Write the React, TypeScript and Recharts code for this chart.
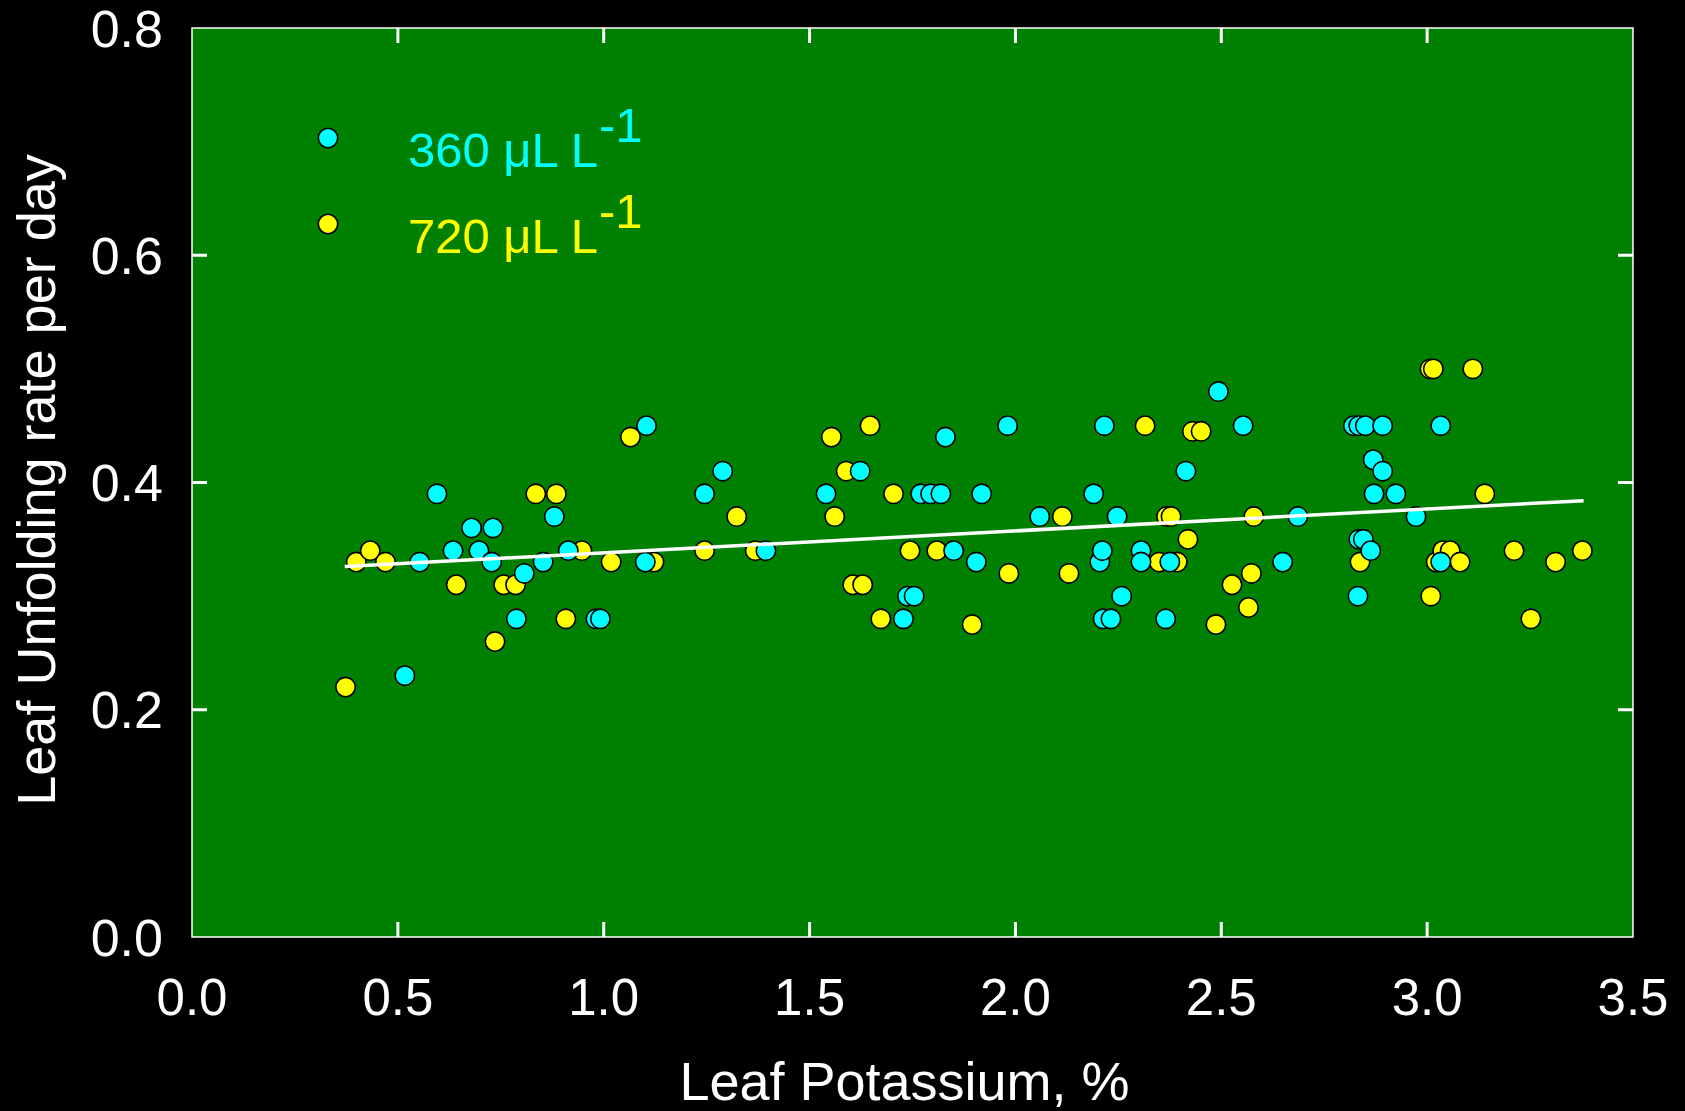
import React from 'react';
import { ScatterChart, Scatter, XAxis, YAxis, CartesianGrid, ReferenceArea, Legend } from 'recharts';

// Leaf potassium (%) and leaf unfolding rate, 360 µL/L CO2
const potassium360 = [
  0.517, 0.553, 0.595, 0.634, 0.679, 0.697, 0.728, 0.731, 0.788, 0.807, 0.853, 0.880, 0.914, 0.981, 0.992,
  1.104, 1.101, 1.245, 1.289, 1.394, 1.540, 1.623, 1.728, 1.738, 1.754, 1.770, 1.794, 1.819, 1.830, 1.850,
  1.905, 1.918, 1.981, 2.059, 2.190, 2.205, 2.211, 2.216, 2.213, 2.232, 2.247, 2.258, 2.305, 2.305, 2.365,
  2.375, 2.414, 2.493, 2.553, 2.649, 2.686, 2.821, 2.834, 2.850, 2.892, 2.832, 2.834, 2.845, 2.863, 2.869,
  2.871, 2.892, 2.924, 2.973, 3.033, 3.033,
];
const rate360 = [
  0.23, 0.33, 0.39, 0.34, 0.36, 0.34, 0.33, 0.36, 0.28, 0.32, 0.33, 0.37, 0.34, 0.28, 0.28,
  0.45, 0.33, 0.39, 0.41, 0.34, 0.39, 0.41, 0.28, 0.30, 0.30, 0.39, 0.39, 0.39, 0.44, 0.34,
  0.33, 0.39, 0.45, 0.37, 0.39, 0.33, 0.34, 0.45, 0.28, 0.28, 0.37, 0.30, 0.34, 0.33, 0.28,
  0.33, 0.41, 0.48, 0.45, 0.33, 0.37, 0.45, 0.45, 0.45, 0.45, 0.30, 0.35, 0.35, 0.34, 0.42,
  0.39, 0.41, 0.39, 0.37, 0.45, 0.33,
];

// 720 µL/L CO2
const potassium720 = [
  0.373, 0.399, 0.433, 0.470, 0.642, 0.736, 0.757, 0.786, 0.835, 0.885, 0.908, 0.947, 1.018, 1.065, 1.122,
  1.245, 1.323, 1.368, 1.553, 1.561, 1.589, 1.605, 1.629, 1.647, 1.673, 1.704, 1.744, 1.809, 1.895, 1.984,
  2.114, 2.130, 2.315, 2.349, 2.367, 2.378, 2.393, 2.419, 2.430, 2.451, 2.487, 2.526, 2.566, 2.573, 2.579,
  2.837, 3.009, 3.007, 3.015, 3.111, 3.022, 3.038, 3.056, 3.080, 3.140, 3.211, 3.252, 3.312, 3.377,
];
const rate720 = [
  0.22, 0.33, 0.34, 0.33, 0.31, 0.26, 0.31, 0.31, 0.39, 0.39, 0.28, 0.34, 0.33, 0.44, 0.33,
  0.34, 0.37, 0.34, 0.44, 0.37, 0.41, 0.31, 0.31, 0.45, 0.28, 0.39, 0.34, 0.34, 0.275, 0.32,
  0.37, 0.32, 0.45, 0.33, 0.37, 0.37, 0.33, 0.35, 0.445, 0.445, 0.275, 0.31, 0.29, 0.32, 0.37,
  0.33, 0.30, 0.50, 0.50, 0.50, 0.33, 0.34, 0.34, 0.33, 0.39, 0.34, 0.28, 0.33, 0.34,
];

// regression line end points
const fitPotassium = [0.371, 3.38];
const fitRate = [0.326, 0.384];

const xTicks = [0, 0.5, 1, 1.5, 2, 2.5, 3, 3.5];
const yTicks = [0, 0.2, 0.4, 0.6, 0.8];

const seriesNames = ['360 μL L', '720 μL L'];
const seriesColors = ['#00ffff', '#ffff00'];

const W = 1685;
const H = 1111;
const PLOT_LEFT = 192;
const PLOT_RIGHT = 1633;
const PLOT_TOP = 28;
const PLOT_BOTTOM = 937;
const TICK_LEN = 15;
const FONT = "'Liberation Sans', Arial, sans-serif";

const zip = (xs: number[], ys: number[]) => xs.map((x, i) => ({ x, y: ys[i] }));
const data360 = zip(potassium360, rate360);
const data720 = zip(potassium720, rate720);
const fitData = zip(fitPotassium, fitRate);

const makeDot = (fill: string) => (props: any) => (
  <circle cx={props.cx} cy={props.cy} r={9.7} fill={fill} stroke="#000" strokeWidth={1.6} />
);

const XTick = (props: any) => {
  const { x, payload } = props;
  const v = payload.value;
  const inner = v > 0 && v < 3.5;
  return (
    <g>
      {inner && <line x1={x} x2={x} y1={PLOT_BOTTOM} y2={PLOT_BOTTOM - TICK_LEN} stroke="#fff" strokeWidth={3} />}
      {inner && <line x1={x} x2={x} y1={PLOT_TOP} y2={PLOT_TOP + TICK_LEN} stroke="#fff" strokeWidth={3} />}
      <text x={x} y={PLOT_BOTTOM + 78} textAnchor="middle" fill="#fff" fontSize={51} fontFamily={FONT}>
        {v.toFixed(1)}
      </text>
    </g>
  );
};

const YTick = (props: any) => {
  const { y, payload } = props;
  const v = payload.value;
  const inner = v > 0 && v < 0.8;
  return (
    <g>
      {inner && <line x1={PLOT_LEFT} x2={PLOT_LEFT + TICK_LEN} y1={y} y2={y} stroke="#fff" strokeWidth={3} />}
      {inner && <line x1={PLOT_RIGHT} x2={PLOT_RIGHT - TICK_LEN} y1={y} y2={y} stroke="#fff" strokeWidth={3} />}
      <text x={PLOT_LEFT - 29} y={y + 18.5} textAnchor="end" fill="#fff" fontSize={52} fontFamily={FONT}>
        {v.toFixed(1)}
      </text>
    </g>
  );
};

const xLabel = () => (
  <text x={(PLOT_LEFT + PLOT_RIGHT) / 2 - 8} y={1100} textAnchor="middle" fill="#fff" fontSize={54} fontFamily={FONT}>
    Leaf Potassium, %
  </text>
);

const yLabel = () => (
  <text transform={`translate(55, 480) rotate(-90)`} textAnchor="middle" fill="#fff" fontSize={54} fontFamily={FONT}>
    Leaf Unfolding rate per day
  </text>
);

const renderLegend = (props: any) => {
  const items = (props.payload || [])
    .filter((p: any) => seriesNames.includes(p.value))
    .sort((a: any, b: any) => seriesNames.indexOf(a.value) - seriesNames.indexOf(b.value));
  return (
    <svg width={700} height={300} style={{ display: 'block' }}>
      {items.map((item: any, i: number) => {
        const color = seriesColors[seriesNames.indexOf(item.value)];
        const cy = 138 + i * 86;
        return (
          <g key={item.value}>
            <circle cx={328} cy={cy} r={9.7} fill={color} stroke="#000" strokeWidth={1.6} />
            <text x={408} y={cy + 29} fill={color} fontSize={49} fontFamily={FONT}>
              {item.value}
              <tspan dx={1} dy={-25}>-1</tspan>
            </text>
          </g>
        );
      })}
    </svg>
  );
};

export default function App() {
  return (
    <div style={{ position: 'absolute', left: 0, top: 0, width: W, height: H, background: '#000' }}>
      <ScatterChart width={W} height={H} margin={{ top: PLOT_TOP, right: W - PLOT_RIGHT, left: 0, bottom: 0 }}>
        <CartesianGrid horizontal={false} vertical={false} fill="#008000" />
        <XAxis
          type="number"
          dataKey="x"
          domain={[0, 3.5]}
          ticks={xTicks}
          interval={0}
          height={H - PLOT_BOTTOM}
          axisLine={false}
          tickLine={false}
          tickSize={0}
          tickMargin={0}
          tick={XTick}
          label={xLabel}
        />
        <YAxis
          type="number"
          dataKey="y"
          domain={[0, 0.8]}
          ticks={yTicks}
          interval={0}
          width={PLOT_LEFT}
          axisLine={false}
          tickLine={false}
          tickSize={0}
          tickMargin={0}
          tick={YTick}
          label={yLabel}
        />
        <ReferenceArea x1={0} x2={3.5} y1={0} y2={0.8} fill="none" stroke="#ffffff" strokeWidth={1.5} />
        <Legend
          layout="vertical"
          align="center"
          verticalAlign="middle"
          content={renderLegend}
          wrapperStyle={{ left: 0, top: 0, width: 700, height: 300 }}
        />
        <Scatter name={seriesNames[1]} data={data720} fill={seriesColors[1]} shape={makeDot(seriesColors[1])} isAnimationActive={false} />
        <Scatter name={seriesNames[0]} data={data360} fill={seriesColors[0]} shape={makeDot(seriesColors[0])} isAnimationActive={false} />
        <Scatter
          name="fit"
          data={fitData}
          legendType="none"
          line={{ stroke: '#ffffff', strokeWidth: 3.5 }}
          shape={() => <g />}
          isAnimationActive={false}
        />
      </ScatterChart>
    </div>
  );
}
